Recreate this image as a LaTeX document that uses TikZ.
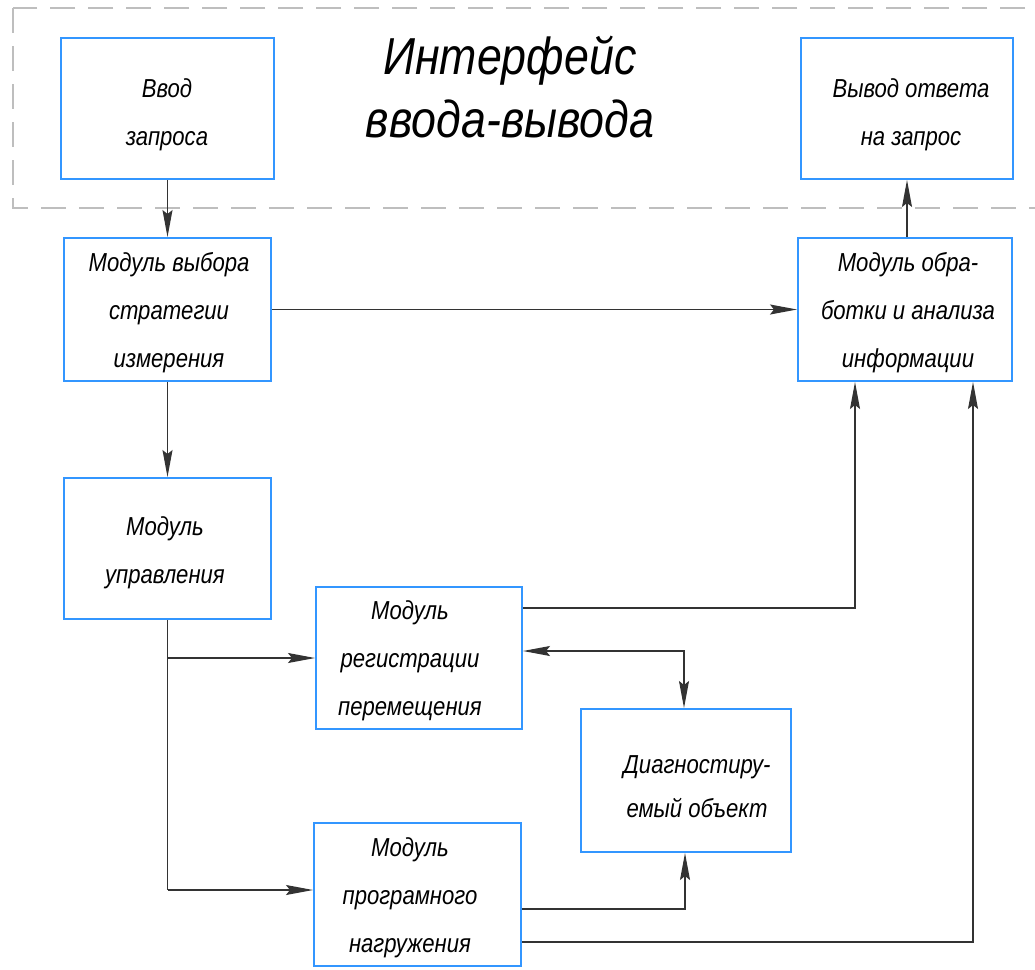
\documentclass[tikz,border=0pt]{standalone}
\usepackage{fontspec}
\setmainfont{Liberation Sans}
\usetikzlibrary{arrows.meta}
\definecolor{boxblue}{RGB}{51,150,255}
\definecolor{dashgray}{RGB}{190,190,190}
\newcommand{\gtext}[2][48pt]{\scalebox{0.85}[1]{\fontsize{26pt}{#1}\selectfont\itshape\begin{tabular}{@{}c@{}}#2\end{tabular}}}
\newcommand{\ttext}[1]{\scalebox{0.86}[1]{\fontsize{52pt}{63pt}\selectfont\itshape\begin{tabular}{@{}c@{}}#1\end{tabular}}}
\tikzset{
  blk/.style={draw=boxblue, line width=2pt, anchor=north west, inner sep=0pt},
  lbl/.style={inner sep=0pt, text=black},
  conn/.style={draw=black!80, line width=1.2pt},
  tip/.style={Stealth[length=27pt,width=10pt,inset=4pt]},
  arr/.style={conn, -{Stealth[length=27pt,width=10pt,inset=4pt]}},
  arrboth/.style={conn, {Stealth[length=27pt,width=10pt,inset=4pt]}-{Stealth[length=27pt,width=10pt,inset=4pt]}},
  dashbox/.style={draw=dashgray, line width=2pt, dash pattern=on 25pt off 13pt}
}
\begin{document}
\begin{tikzpicture}[x=1pt,y=-1pt]
\useasboundingbox (0,0) rectangle (1035,969);
\clip (0,0) rectangle (1035,969);
\fill[white] (0,0) rectangle (1035,969);
% dashed interface frame
\draw[dashbox] (13,8) rectangle (1060,208);
\node[lbl] (title) at (510,93) {\ttext{Интерфейс\\ввода-вывода}};
% boxes
\node[blk, minimum width=213pt, minimum height=141pt] (in) at (60,37) {};
\node[blk, minimum width=212pt, minimum height=141pt] (out) at (800,37) {};
\node[blk, minimum width=207pt, minimum height=143pt] (strat) at (63,237) {};
\node[blk, minimum width=214pt, minimum height=143pt] (proc) at (797,237) {};
\node[blk, minimum width=207pt, minimum height=141pt] (ctrl) at (63,477) {};
\node[blk, minimum width=206pt, minimum height=142pt] (reg) at (315,586) {};
\node[blk, minimum width=210pt, minimum height=143pt] (obj) at (580,708) {};
\node[blk, minimum width=207pt, minimum height=143pt] (load) at (313,822) {};
% texts
\node[lbl] (tin) at (167,112) {\gtext{Ввод\\запроса}};
\node[lbl] (tout) at (911,112) {\gtext{Вывод ответа\\на запрос}};
\node[lbl] (tstrat) at (169,310) {\gtext{Модуль выбора\\стратегии\\измерения}};
\node[lbl] (tproc) at (908,310) {\gtext{Модуль обра-\\ботки и анализа\\информации}};
\node[lbl] (tctrl) at (165,550) {\gtext{Модуль\\управления}};
\node[lbl] (treg) at (410,658) {\gtext{Модуль\\регистрации\\перемещения}};
\node[lbl] (tobj) at (697,787) {\gtext[44pt]{Диагностиру-\\емый объект}};
\node[lbl] (tload) at (410,895) {\gtext{Модуль\\програмного\\нагружения}};
% coordinates for bends
\coordinate (b1) at (ctrl.south |- 0,658);
\coordinate (b2) at (ctrl.south |- 0,890);
\coordinate (k) at (684,651);
\coordinate (r1) at (855,608);
\coordinate (l1) at (685,909);
\coordinate (l2) at (973,942);
% connectors
\draw[arr] (in.south) -- (strat.north);
\draw[arr] (proc.north -| out.south) -- (out.south);
\draw[arr] (strat.east) -- (proc.west);
\draw[arr] (strat.south) -- (ctrl.north);
\draw[conn] (ctrl.south) -- (b2);
\draw[arr] (b1) -- (reg.west |- b1);
\draw[arr] (b2) -- (load.west |- b2);
\draw[arr] (reg.east |- r1) -| (proc.south -| r1);
\draw[arrboth] (reg.east |- k) -| (obj.north -| k);
\draw[arr] (load.east |- l1) -| (obj.south -| l1);
\draw[arr] (load.east |- l2) -| (proc.south -| l2);
\end{tikzpicture}
\end{document}
